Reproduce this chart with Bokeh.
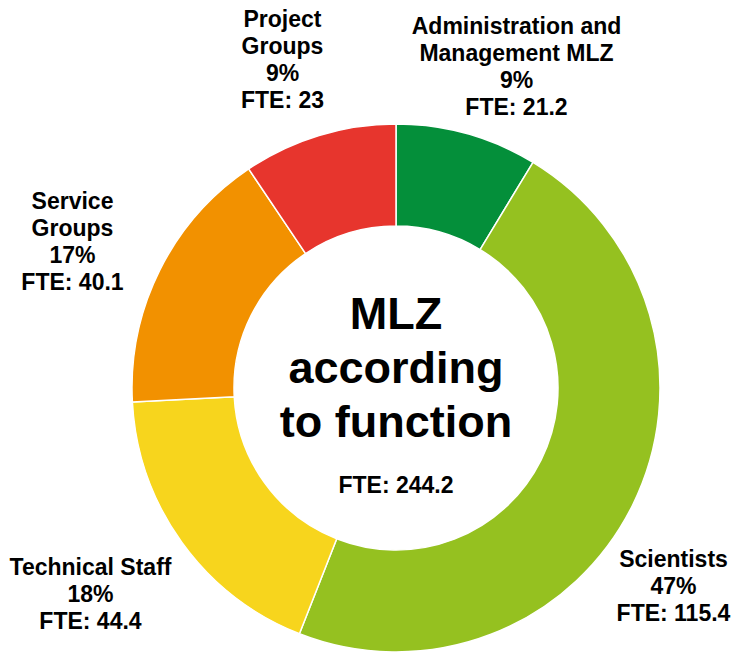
import math
from bokeh.plotting import figure
from bokeh.models import Range1d
from bokeh.core.properties import value
from bokeh.embed import file_html
from bokeh.resources import INLINE

# ---- data ----
categories = ["Administration and\nManagement MLZ", "Scientists", "Technical Staff",
              "Service\nGroups", "Project\nGroups"]
fte = [21.2, 115.4, 44.4, 40.1, 23.0]
pct_labels = ["9%", "47%", "18%", "17%", "9%"]
total_label = "FTE: 244.2"
center_title = ["MLZ", "according", "to function"]
colors = ["#048F3A", "#95C120", "#F7D51D", "#F29100", "#E7352D"]

# ---- layout (screen pixel coordinates of the 733x652 picture) ----
W, H = 733, 652
FW, FH = 733, 652
cx, cy = 395.5, 387.5
r_in, r_out = 162, 264
label_pos = [(516, 25), (673, 558), (90, 566), (72, 200), (282, 18)]
line_gap = 27.3

def Y(sy):
    return H - sy

p = figure(width=FW, height=FH, output_backend="svg", toolbar_location=None,
           x_range=Range1d(0, FW), y_range=Range1d(Y(FH), Y(0)),
           min_border=0, outline_line_color=None, background_fill_color="white")
p.axis.visible = False
p.grid.visible = False

tot = sum(fte)
starts, ends = [], []
cum = 0.0
for v in fte:
    starts.append(math.pi / 2 - 2 * math.pi * cum / tot)
    cum += v
    ends.append(math.pi / 2 - 2 * math.pi * cum / tot)

p.annular_wedge(x=[cx] * len(fte), y=[Y(cy)] * len(fte), inner_radius=r_in, outer_radius=r_out,
                start_angle=starts, end_angle=ends, direction="clock",
                fill_color=colors, line_color="white", line_width=1.5)

font = value("Liberation Sans")
xs, ys, ts = [], [], []
for cat, pc, v, (lx, ly) in zip(categories, pct_labels, fte, label_pos):
    lines = cat.split("\n") + [pc, "FTE: " + (f"{v:g}")]
    for i, t in enumerate(lines):
        xs.append(lx)
        ys.append(Y(ly + i * line_gap))
        ts.append(t)
p.text(x=xs, y=ys, text=ts, text_font=font, text_font_style="bold", text_font_size="23px",
       text_align="center", text_baseline="middle", text_color="black")

p.text(x=[cx] * 3, y=[Y(313), Y(367), Y(421)], text=center_title, text_font=font,
       text_font_style="bold", text_font_size="45px", text_align="center",
       text_baseline="middle", text_color="black")
p.text(x=[cx], y=[Y(484)], text=[total_label], text_font=font, text_font_style="bold",
       text_font_size="23px", text_align="center", text_baseline="middle", text_color="black")

open("out.html", "w").write(file_html(p, INLINE))
